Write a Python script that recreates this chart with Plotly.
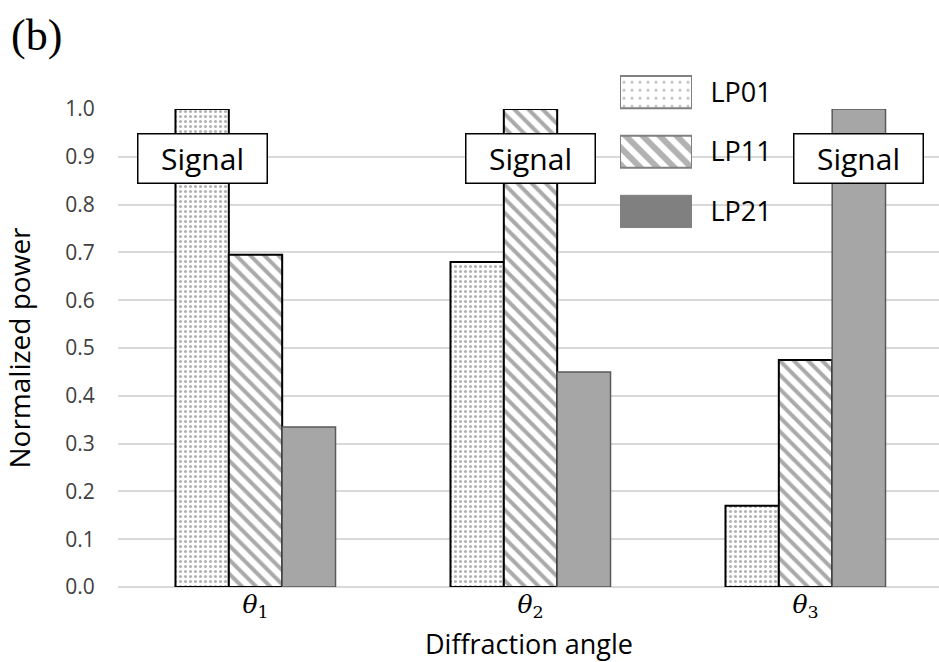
import plotly.graph_objects as go

categories = ["<i>θ</i><sub>1</sub>", "<i>θ</i><sub>2</sub>", "<i>θ</i><sub>3</sub>"]
series_names = ["LP01", "LP11", "LP21"]
lp01 = [1.0, 0.68, 0.17]
lp11 = [0.695, 1.0, 0.475]
lp21 = [0.335, 0.45, 1.0]
signal_series = [0, 1, 2]  # which series is the "Signal" in each group
signal_label = "Signal"
signal_y = 0.897
x_title = "Diffraction angle"
y_title = "Normalized power"
panel_label = "(b)"

W, H = 939, 662
ML, MR, MT, MB = 118, 0, 40, 75
PW, PH = W - ML - MR, H - MT - MB
BARGAP = 0.418

def px_x(p):
    return (p - ML) / PW

def px_y(p):
    return (H - MB - p) / PH

styles = [
    dict(color="white", line=dict(color="black", width=2),
         pattern=dict(shape=".", fgcolor="#666666", bgcolor="white", size=5, solidity=0.3)),
    dict(color="white", line=dict(color="black", width=2),
         pattern=dict(shape="\\", fgcolor="#555555", bgcolor="white", size=10, solidity=0.4)),
    dict(color="#a6a6a6", line=dict(color="#595959", width=1.5)),
]
legend_styles = [
    dict(color="white", line=dict(color="#808080", width=2),
         pattern=dict(shape=".", fgcolor="#7f7f7f", bgcolor="white", size=8, solidity=0.12)),
    dict(color="white", line=dict(color="#808080", width=2),
         pattern=dict(shape="\\", fgcolor="#666666", bgcolor="white", size=12, solidity=0.5)),
    dict(color="#808080", line=dict(color="#808080", width=1)),
]

fig = go.Figure()
for name, vals, st in zip(series_names, [lp01, lp11, lp21], styles):
    fig.add_trace(go.Bar(x=categories, y=vals, name=name, marker=st, showlegend=False))

# legend swatches drawn as an inset bar chart
for name, st in zip(series_names, legend_styles):
    fig.add_trace(go.Bar(x=[1], y=[name], orientation="h", marker=st, width=0.54, offset=-0.27,
                         xaxis="x2", yaxis="y2", showlegend=False, hoverinfo="skip"))

bw = (1 - BARGAP) / 3
annots = []
for i, s in enumerate(signal_series):
    annots.append(dict(x=i + (s - 1) * bw, y=signal_y, xref="x", yref="y", text=signal_label,
                       showarrow=False, font=dict(family="Open Sans", size=30, color="black"),
                       bgcolor="white", bordercolor="black", borderwidth=1.5,
                       width=126, height=46, borderpad=1, xanchor="center", yanchor="middle"))
annots.append(dict(x=px_x(9), y=px_y(35), xref="paper", yref="paper", text=panel_label, showarrow=False,
                   xanchor="left", yanchor="middle",
                   font=dict(family="Liberation Serif", size=44, color="black")))
annots.append(dict(x=0.5, y=px_y(643), xref="x domain", yref="paper", text=x_title, showarrow=False,
                   xanchor="center", yanchor="middle",
                   font=dict(family="Open Sans", size=27, color="black")))

fig.update_layout(
    width=W, height=H,
    margin=dict(l=ML, r=MR, t=MT, b=MB),
    paper_bgcolor="white", plot_bgcolor="white",
    barmode="group", bargap=BARGAP, bargroupgap=0,
    showlegend=False,
    annotations=annots,
    xaxis=dict(range=[-0.5, -0.5 + PW / 275.0], showgrid=False, zeroline=False, showline=False,
               tickfont=dict(family="DejaVu Serif", size=25, color="black"),
               ticks="", ticklen=0),
    yaxis=dict(domain=[0, px_y(109)], range=[0, 1.0001], dtick=0.1, tickformat=".1f",
               showgrid=True, gridcolor="#d9d9d9", gridwidth=1.5,
               zeroline=True, zerolinecolor="#d9d9d9", zerolinewidth=1.5, showline=False,
               ticks="outside", ticklen=18, tickcolor="rgba(0,0,0,0)",
               tickfont=dict(family="Open Sans", size=21, color="#404040"),
               title=dict(text=y_title, font=dict(family="Open Sans", size=28, color="black"),
                          standoff=26)),
    xaxis2=dict(domain=[px_x(620), px_x(692)], anchor="y2", range=[0, 1], visible=False),
    yaxis2=dict(domain=[px_y(241.25), px_y(62.25)], anchor="x2", side="right", range=[2.5, -0.5],
                type="category", categoryarray=series_names, showgrid=False, zeroline=False,
                showline=False, ticks="outside", ticklen=12, tickcolor="rgba(0,0,0,0)",
                tickfont=dict(family="Open Sans", size=27, color="black")),
)

fig.write_html("out.html")
